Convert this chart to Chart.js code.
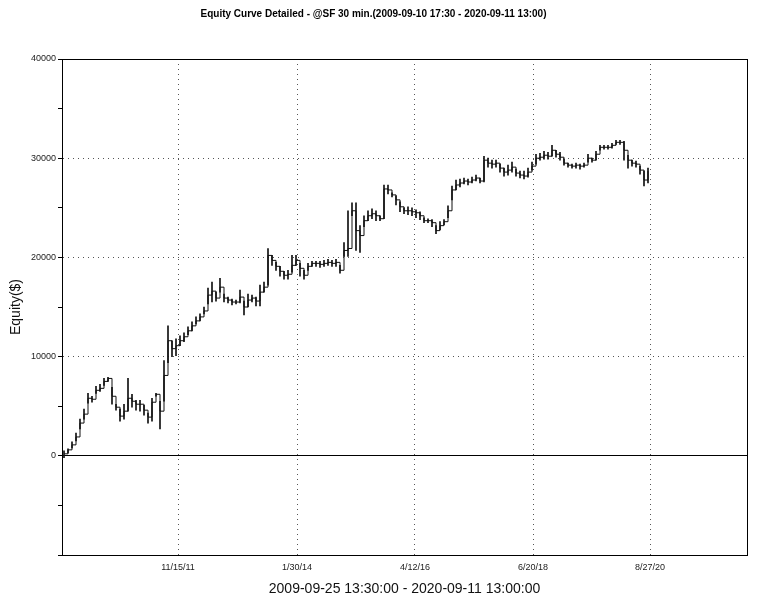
<!DOCTYPE html>
<html>
<head>
<meta charset="utf-8">
<script src="https://cdn.jsdelivr.net/npm/chart.js@4.4.0/dist/chart.umd.min.js"></script>
<style>
html,body{margin:0;padding:0;background:#fff}
</style>
</head>
<body>
<canvas id="equityChart" width="768" height="602"></canvas>
<script>
// bar closes / highs / lows, one bar per slot
const closes = [200,600,1100,1900,3300,4200,5800,5700,6600,6800,7500,7800,6000,4900,4000,4500,5800,5500,5200,5200,
4600,3900,5400,6200,4500,8100,11600,10800,11100,11600,12000,12600,13100,13600,14000,14600,16200,16600,15900,17000,
15900,15700,15500,15500,16000,15000,15700,15900,15600,16500,17000,20200,19700,19100,18600,18200,18300,19200,19700,18900,
18200,19100,19400,19400,19300,19400,19500,19400,19500,18700,20700,20900,24700,22700,22200,23700,24200,24400,24200,23900,
26900,26800,26300,25800,25100,24700,24700,24600,24500,24200,23700,23700,23500,22700,23200,23600,24700,26800,27300,27500,
27700,27600,27800,28000,27700,29800,29500,29400,29500,29000,28600,28800,29100,28500,28300,28200,28600,29200,30000,30100,
30300,30200,30800,30400,30100,29500,29300,29200,29300,29200,29300,30000,29800,30400,31100,31100,31100,31300,31600,31600,
30800,29800,29500,29400,28800,27800,28700]

const highs = [500,700,1400,2300,3700,4700,6300,6000,7000,7200,7800,7900,6900,5200,4700,5200,7800,6200,5600,5600,
5100,4300,5800,6300,5500,9600,13100,11600,11800,12100,12400,13000,13500,14000,14300,15000,16900,17500,16500,17900,
16300,16000,15800,15700,16700,15600,16300,16200,16000,17200,17500,20900,20200,19500,19100,18600,18700,20200,20200,19400,
18700,19400,19600,19600,19600,19700,19800,19700,19800,19200,21500,24700,25500,25500,23200,24200,24700,24900,24700,24200,
27300,27300,26500,26200,25600,25000,25100,25000,24800,24600,24000,23900,23800,23200,23600,23800,25200,27200,27800,27900,
28000,27900,28100,28300,28000,30200,30000,29800,29800,29400,29000,29300,29600,28900,28700,28700,29000,29600,30400,30500,
30700,30600,31300,30800,30600,29900,29500,29400,29500,29400,29500,30400,30000,30700,31300,31300,31300,31500,31800,31800,
31700,30300,29800,29700,29200,28700,29000]

const lows = [-200,300,800,1500,2700,3700,5300,5400,6300,6500,7100,7500,5200,4600,3500,3700,4500,4900,4600,4500,
4100,3300,3500,6000,2700,5500,9400,10000,10100,11100,11500,12200,12600,13300,13600,14300,15300,15500,15600,16500,
15500,15400,15200,15300,15400,14200,15000,15500,15100,15100,16500,17200,19200,18700,18100,17800,17800,18500,19200,18100,
17800,18700,19100,19100,19000,19100,19200,19100,19100,18400,20100,20100,24200,20700,20500,23100,23700,23900,23700,23700,
23900,26400,26100,25300,24600,24400,24300,24200,24000,23800,23500,23500,23100,22400,22800,23300,24000,25800,26800,27100,
27400,27300,27500,27700,27500,27600,29100,29000,29100,28600,28200,28300,28600,28200,28000,27900,28100,28800,29400,29800,
29900,29900,30200,30100,29800,29300,29100,29000,29000,28900,29100,29600,29600,29800,30800,30900,30900,31000,31400,31400,
29800,29000,29200,29100,28400,27200,27500]

const tickPositions = [28.5, 58.25, 87.75, 117.25, 146.5]
const tickLabels = ["11/15/11", "1/30/14", "4/12/16", "6/20/18", "8/27/20"]

const fontFamily = '"Liberation Sans", Arial, sans-serif'

const frame = {
  id: "frame",
  afterDraw(chart){
    const a = chart.chartArea
    const ctx = chart.ctx
    ctx.save()
    ctx.strokeStyle = "#000"
    ctx.lineWidth = 1
    ctx.strokeRect(Math.round(a.left) + 0.5, Math.round(a.top) + 0.5, Math.round(a.right - a.left), Math.round(a.bottom - a.top))
    ctx.restore()
  }
}

const ctx = document.getElementById("equityChart")

new Chart(ctx, {
  type: "bar",
  data: {
    datasets: [
      {
        type: "bar",
        data: closes.map((c, i) => ({x: i, y: [lows[i], highs[i]]})),
        backgroundColor: "#111",
        barThickness: 1,
        grouped: false
      },
      {
        type: "line",
        data: closes.map((c, i) => ({x: i, y: c})),
        borderColor: "#111",
        borderWidth: 1,
        pointRadius: 0,
        stepped: true,
        fill: false
      }
    ]
  },
  options: {
    responsive: false,
    animation: false,
    devicePixelRatio: 1,
    layout: { padding: { left: 0, right: 21, top: 0, bottom: 0 } },
    plugins: {
      legend: { display: false },
      tooltip: { enabled: false },
      title: {
        display: true,
        text: "Equity Curve Detailed - @SF 30 min.(2009-09-10 17:30 - 2020-09-11 13:00)",
        color: "#000",
        font: { family: fontFamily, size: 10, weight: "bold" },
        padding: { top: 8, bottom: 39 }
      }
    },
    scales: {
      x: {
        type: "linear",
        offset: false,
        min: -0.5,
        max: 170.75,
        afterFit: s => { s.height = 47 },
        afterBuildTicks: s => { s.ticks = tickPositions.map(v => ({value: v})) },
        ticks: {
          autoSkip: false,
          maxRotation: 0,
          padding: 7,
          color: "#222",
          font: { family: fontFamily, size: 9 },
          callback: (v, i) => tickLabels[i]
        },
        grid: { offset: false, drawTicks: false, color: "#555" },
        border: { color: "#000", dash: c => c.tick ? [1, 4] : [] },
        title: {
          display: true,
          text: "2009-09-25 13:30:00 - 2020-09-11 13:00:00",
          color: "#111",
          font: { family: fontFamily, size: 14 },
          padding: { top: 0, bottom: 4 }
        }
      },
      y: {
        min: -10000,
        max: 40000,
        afterFit: s => { s.width = 62 },
        ticks: {
          stepSize: 5000,
          padding: 2,
          color: "#222",
          font: { family: fontFamily, size: 9 },
          callback: v => (v >= 0 && v % 10000 === 0) ? v : ""
        },
        grid: {
          tickLength: 4,
          tickColor: "#000",
          color: c => {
            if (!c.tick) return "rgba(0,0,0,0)"
            if (c.tick.value === 0) return "#000"
            if (c.tick.value > 0 && c.tick.value < 40000 && c.tick.value % 10000 === 0) return "#555"
            return "rgba(0,0,0,0)"
          }
        },
        border: { color: "#000", dash: c => (c.tick && c.tick.value !== 0) ? [1, 4] : [] },
        title: {
          display: true,
          text: "Equity($)",
          color: "#111",
          font: { family: fontFamily, size: 14 },
          padding: { top: 8, bottom: 0 }
        }
      }
    }
  },
  plugins: [frame]
})
</script>
</body>
</html>
